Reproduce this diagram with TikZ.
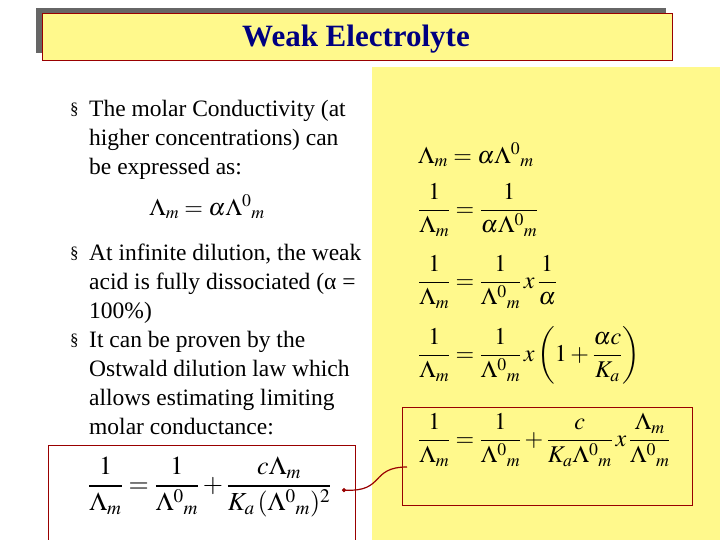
\documentclass[tikz,border=0pt]{standalone}
\usepackage{amsmath}
\usepackage{mathptmx}
\usepackage{fontspec}
\setmainfont{Liberation Serif}
\usetikzlibrary{arrows.meta}
\begin{document}
\begin{tikzpicture}[x=1pt,y=-1pt,
  txt/.style={anchor=north west,align=left,font=\fontsize{23.5}{29}\selectfont,inner sep=0pt},
  bul/.style={anchor=north west,font=\fontsize{17}{29}\selectfont,inner sep=0pt},
  eq/.style={font=\fontsize{24}{26}\selectfont,inner sep=0pt},
  redbox/.style={draw=red!60!black,line width=0.8pt}]
\useasboundingbox (0,0) rectangle (720,540);
\fill[white] (0,0) rectangle (720,540);
\fill[gray!80!black] (36,8) rectangle (666,53);
\node[redbox,fill=yellow!45,minimum width=630pt,minimum height=47pt,anchor=north west,inner sep=0pt] (title) at (42,13) {};
\node[font=\fontsize{31}{34}\selectfont\bfseries,text=blue!50!black] at (356,39) {Weak Electrolyte};
\fill[yellow!45] (372,67) rectangle (720,540);
\node[bul] (b1) at (70,103) {§};
\node[txt] (t1) at (89,100) {The molar Conductivity (at\\higher concentrations) can\\be expressed as:};
\node[eq] (e0) at (207,207) {$\Lambda_{m}=\alpha\Lambda^{0}{}_{m}$};
\node[bul] (b2) at (70,247) {§};
\node[txt] (t2) at (89,244) {At infinite dilution, the weak\\acid is fully dissociated (α =\\100\%)};
\node[bul] (b3) at (70,334) {§};
\node[txt] (t3) at (89,331) {It can be proven by the\\Ostwald dilution law which\\allows estimating limiting\\molar conductance:};
\node[redbox,minimum width=307pt,minimum height=100pt,anchor=north west] (lb) at (48,445) {};
\node[eq,anchor=west,font=\fontsize{26}{28}\selectfont] (le) at (88,487) {$\dfrac{1}{\Lambda_{m}}=\dfrac{1}{\Lambda^{0}{}_{m}}+\dfrac{c\Lambda_{m}}{K_{a}\,(\Lambda^{0}{}_{m})^{2}}$};
\node[eq,anchor=west] (r1) at (418,155) {$\Lambda_{m}=\alpha\Lambda^{0}{}_{m}$};
\node[eq,anchor=west] (r2) at (418,210) {$\dfrac{1}{\Lambda_{m}}=\dfrac{1}{\alpha\Lambda^{0}{}_{m}}$};
\node[eq,anchor=west] (r3) at (418,282) {$\dfrac{1}{\Lambda_{m}}=\dfrac{1}{\Lambda^{0}{}_{m}}\,x\,\dfrac{1}{\alpha}$};
\node[eq,anchor=west] (r4) at (418,355) {$\dfrac{1}{\Lambda_{m}}=\dfrac{1}{\Lambda^{0}{}_{m}}\,x\left(1+\dfrac{\alpha c}{K_{a}}\right)$};
\node[redbox,minimum width=290pt,minimum height=98pt,anchor=north west] (rb) at (402,407) {};
\node[eq,anchor=west] (r5) at (418,440) {$\dfrac{1}{\Lambda_{m}}=\dfrac{1}{\Lambda^{0}{}_{m}}+\dfrac{c}{K_{a}\Lambda^{0}{}_{m}}\,x\,\dfrac{\Lambda_{m}}{\Lambda^{0}{}_{m}}$};
\coordinate (as) at (407,467);
\coordinate (ae) at (342,490);
\draw[red!60!black,line width=1.2pt,-{Circle[length=4pt]}] (as) .. controls (370,467) and (385,492) .. (ae);
\end{tikzpicture}
\end{document}
